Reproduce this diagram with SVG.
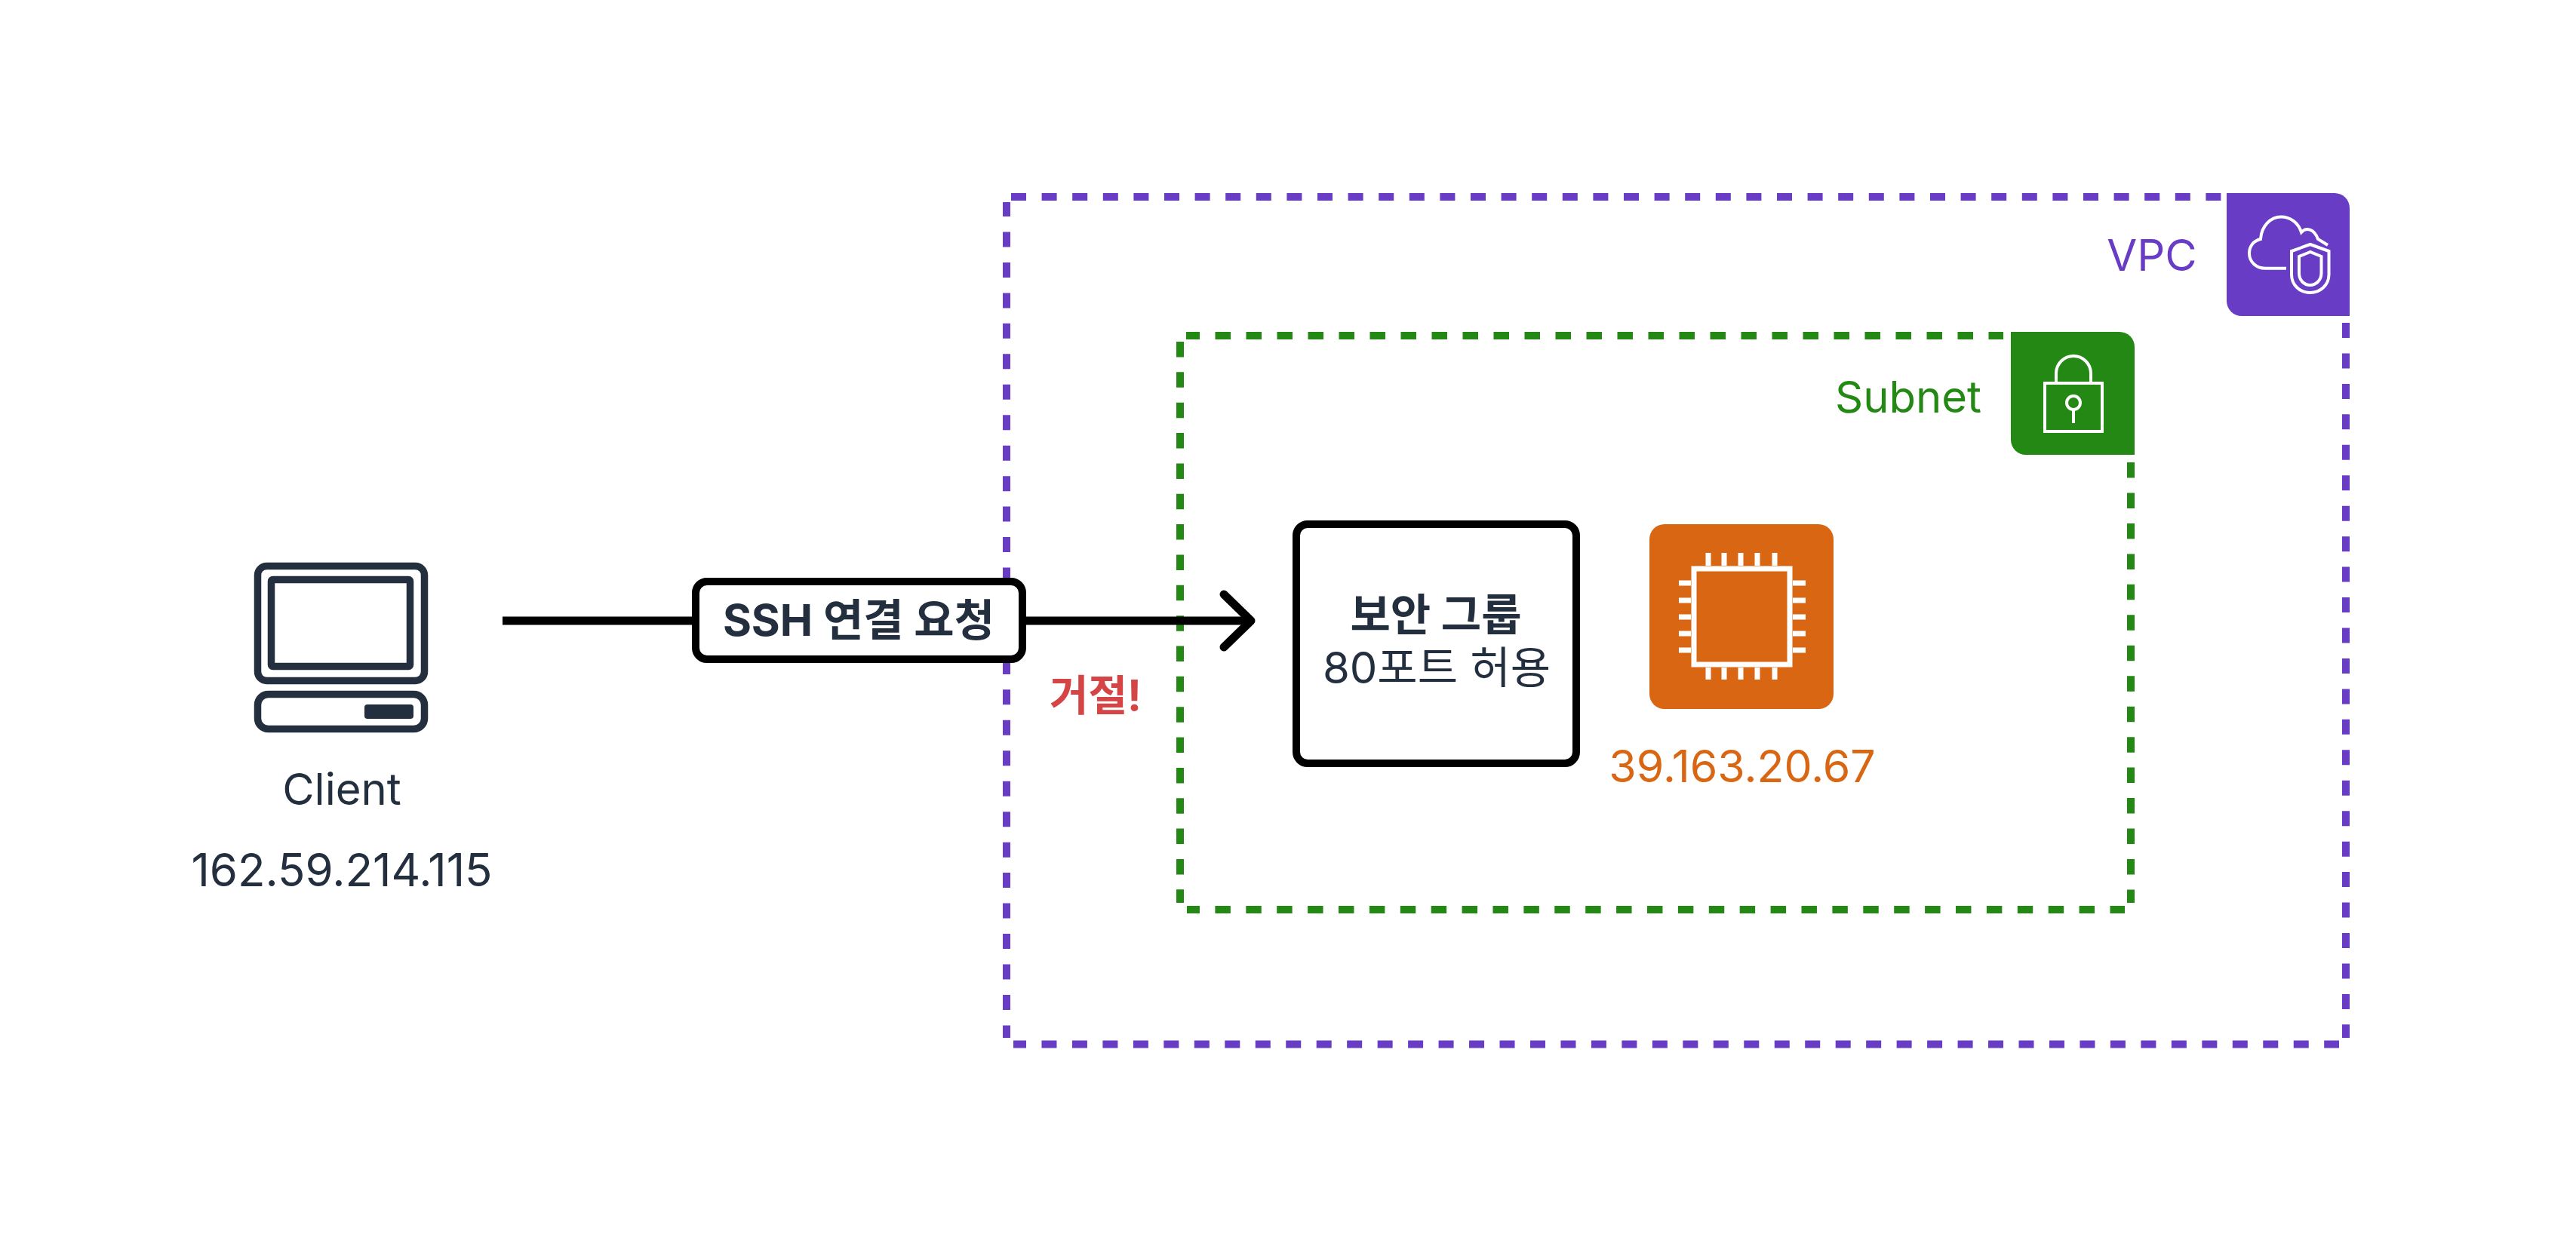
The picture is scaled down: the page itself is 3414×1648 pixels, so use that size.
<svg xmlns="http://www.w3.org/2000/svg" width="3414" height="1648" viewBox="0 0 3414 1648">
  <style>
    text { font-family: "Inter", "Noto Sans CJK KR", "Noto Sans", sans-serif; font-size: 58px; text-anchor: middle; fill: #232f3e; }
    .bold { font-weight: 700; }
    .vpc { fill: none; stroke: #693cc5; stroke-width: 10; }
    .subnet { fill: none; stroke: #248814; stroke-width: 10; }
    .glyph { fill: none; stroke: #ffffff; stroke-width: 4; }
    .chip { fill: none; stroke: #ffffff; stroke-width: 7; }
    .pc { fill: none; stroke: #232f3e; stroke-width: 9.500; }
    .box { fill: #ffffff; stroke: #000000; stroke-width: 10; }
    .wire { fill: none; stroke: #000000; stroke-width: 11; }
    .head { stroke-linecap: round; stroke-linejoin: round; }
    .t-vpc { fill: #693cc5; }
    .t-subnet { fill: #248814; }
    .t-ip { fill: #d86613; font-size: 59px; }
    .t-label { font-size: 58px; }
    .t-deny { fill: #d64545; font-size: 56px; }
  </style>
  <rect width="3414" height="1648" fill="#ffffff"/>

  <g id="vpc">
    <path class="vpc" stroke-dasharray="20 20.600" d="M1340 261H2950"/>
    <path class="vpc" stroke-dasharray="20 20.460" stroke-dashoffset="1" d="M1334 268V1376"/>
    <path class="vpc" stroke-dasharray="20 20.450" d="M3109 428V1376"/>
    <path class="vpc" stroke-dasharray="20 20.470" stroke-dashoffset="3" d="M1343 1384.500H3100"/>
    <path d="M2951 256H3094a20 20 0 0 1 20 20V419H2971a20 20 0 0 1 -20 -20Z" fill="#693cc5"/>
    <path class="glyph" d="M3030 355.700H3002C2990 355.700 2981 347 2981 336C2981 326 2987 319 2996 317C2997 300 3009 287.500 3023 287.500C3035 287.500 3046 295 3050 308C3056 301 3067 303 3072 317L3085 325"/>
    <path class="glyph" d="M3061.700 324L3037 333V364C3037 378 3048 388 3061.700 388C3075 388 3086.500 378 3086.500 364V333Z"/>
    <path class="glyph" d="M3061.700 334L3047 340V362C3047 372 3054 378 3061.700 378C3069 378 3076.500 372 3076.500 362V340Z"/>
    <text class="t-vpc" x="2852" y="359">VPC</text>
  </g>

  <g id="subnet">
    <path class="subnet" stroke-dasharray="20.500 20.500" stroke-dashoffset="2.500" d="M1572 445H2655"/>
    <path class="subnet" stroke-dasharray="20.500 19.850" d="M1564 453V1197"/>
    <path class="subnet" stroke-dasharray="20.500 19.960" d="M2824 613V1197"/>
    <path class="subnet" stroke-dasharray="20.450 20.450" stroke-dashoffset="3.500" d="M1573 1206H2816"/>
    <path d="M2665 440H2809a20 20 0 0 1 20 20V603H2685a20 20 0 0 1 -20 -20Z" fill="#248814"/>
    <rect class="glyph" x="2710" y="508" width="76" height="64"/>
    <path class="glyph" d="M2725 508V495a23 23 0 0 1 46 0V508"/>
    <circle class="glyph" cx="2748" cy="534" r="9"/>
    <path class="glyph" d="M2748 543V561"/>
    <text class="t-subnet" x="2529" y="547">Subnet</text>
  </g>

  <g id="client">
    <rect class="pc" x="341.500" y="750.500" width="221" height="152" rx="12"/>
    <rect class="pc" x="359.500" y="768.500" width="184" height="115" rx="2"/>
    <rect class="pc" x="341.500" y="920.500" width="221" height="46" rx="14"/>
    <rect x="483" y="934" width="65" height="19" rx="4" fill="#232f3e"/>
    <text x="453" y="1067">Client</text>
    <text x="453" y="1175" style="font-size:60px">162.59.214.115</text>
  </g>

  <g id="security-group">
    <rect class="box" x="1718" y="695" width="371" height="317" rx="15"/>
    <text class="bold" x="1903" y="836">보안 그룹</text>
    <text x="1904" y="906">80포트 허용</text>
  </g>

  <g id="instance">
    <rect x="2186" y="695" width="244" height="245" rx="20" fill="#d86613"/>
    <rect class="chip" x="2245" y="754" width="127" height="127"/>
    <path class="chip" d="M2264 733V750M2285 733V750M2307 733V750M2329 733V750M2352 733V750M2264 885V901M2285 885V901M2307 885V901M2329 885V901M2352 885V901M2225 773H2241M2225 796H2241M2225 818H2241M2225 840H2241M2225 862H2241M2376 773H2393M2376 796H2393M2376 818H2393M2376 840H2393M2376 862H2393"/>
    <text class="t-ip" x="2309" y="1037">39.163.20.67</text>
  </g>

  <g id="connectors">
    <path class="wire" d="M666 823H1656"/>
    <path class="wire head" d="M1622 788L1658 823L1622 858"/>
    <rect class="box" x="922" y="771" width="433" height="103" rx="15"/>
    <text class="bold t-label" x="1138" y="843">SSH 연결 요청</text>
    <text class="bold t-deny" x="1452" y="942">거절!</text>
  </g>
</svg>
